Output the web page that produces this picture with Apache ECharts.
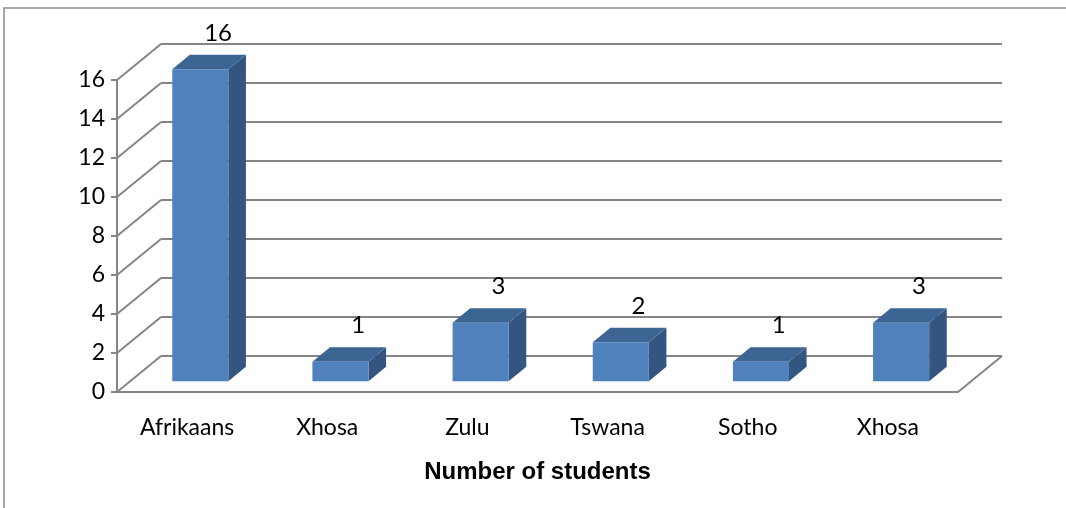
<!DOCTYPE html>
<html>
<head>
<meta charset="utf-8">
<script src="https://cdn.jsdelivr.net/npm/echarts@6/dist/echarts.min.js"></script>
<style>
  html, body { margin: 0; padding: 0; background: #fff; }
  #chart { width: 1066px; height: 508px; }
</style>
</head>
<body>
<div id="chart"></div>
<script>
// data
const categories = ["Afrikaans", "Xhosa", "Zulu", "Tswana", "Sotho", "Xhosa"];
const students = [16, 1, 3, 2, 1, 3];
const yTicks = [0, 2, 4, 6, 8, 10, 12, 14, 16];

// fake 3d: offset of the back wall from the front plane
const DX = 44, DY = -36;
const gridColor = "#858585";
const labelFont = "Lato, 'Open Sans', sans-serif";

let chart = echarts.init(document.getElementById("chart"));

function wallItem(params, api) {
  const cs = params.coordSys;
  const v = api.value(1);
  const y = api.coord([0, v])[1];
  const left = cs.x, right = cs.x + cs.width;
  const style = { stroke: gridColor, lineWidth: 2, fill: null };
  const children = [
    { type: "line", shape: { x1: left, y1: y, x2: left + DX, y2: y + DY }, style: style },
    { type: "line", shape: { x1: left + DX, y1: y + DY, x2: right + DX, y2: y + DY }, style: style }
  ];
  if (v === 0) {
    // right edge of the floor
    children.push({ type: "line", shape: { x1: right, y1: y, x2: right + DX, y2: y + DY }, style: style });
  }
  return { type: "group", children: children };
}

function barItem(params, api) {
  const i = api.value(0);
  const v = api.value(1);
  const base = api.coord([i, 0]);
  const top = api.coord([i, v]);
  const w = api.size([1, 0])[0] * 0.4;
  const f0 = 0.3, f1 = 0.7;
  const x0 = base[0] - w / 2 + DX * f0;
  const x1 = x0 + w;
  const yb = base[1] + DY * f0;
  const yt = top[1] + DY * f0;
  const bx = DX * (f1 - f0), by = DY * (f1 - f0);
  return {
    type: "group",
    children: [
      { type: "polygon", shape: { points: [[x1, yt], [x1 + bx, yt + by], [x1 + bx, yb + by], [x1, yb]] },
        style: { fill: "#34557f" } },
      { type: "polygon", shape: { points: [[x0, yt], [x1, yt], [x1 + bx, yt + by], [x0 + bx, yt + by]] },
        style: { fill: "#3d6594" } },
      { type: "rect", shape: { x: x0, y: yt, width: w, height: yb - yt },
        style: { fill: "#4f81bd" } },
      { type: "text",
        style: { text: String(v), x: (x0 + x1) / 2 + DX * 0.5 * (f1 - f0) + 9, y: top[1] + DY * 0.75 - 8,
          align: "center", verticalAlign: "bottom", fill: "#000", fontSize: 24, fontFamily: labelFont } }
    ]
  };
}

chart.setOption({
  animation: false,
  grid: { left: 117, right: 108, top: 80, bottom: 116 },
  xAxis: {
    type: "category",
    data: categories,
    boundaryGap: true,
    axisLine: { lineStyle: { color: gridColor, width: 2 } },
    axisTick: { length: 8, lineStyle: { color: gridColor, width: 2 } },
    axisLabel: { interval: 0, margin: 24, fontSize: 23, color: "#000", fontFamily: labelFont },
    name: "Number of students",
    nameLocation: "middle",
    nameGap: 68,
    nameTextStyle: { fontSize: 24, fontWeight: "bold", color: "#000", fontFamily: "'Liberation Sans', Arial, sans-serif" }
  },
  yAxis: {
    type: "value",
    min: 0,
    max: 16,
    interval: 2,
    axisLine: { show: true, lineStyle: { color: gridColor, width: 2 } },
    axisTick: { show: true, length: 6, lineStyle: { color: gridColor, width: 2 } },
    axisLabel: { margin: 12, fontSize: 23, color: "#000", fontFamily: labelFont },
    splitLine: { show: false }
  },
  graphic: [
    { type: "rect", shape: { x: 4, y: 8, width: 1100, height: 600 },
      style: { fill: null, stroke: "#8c8c8c", lineWidth: 1.5 }, silent: true }
  ],
  series: [
    {
      type: "custom",
      renderItem: wallItem,
      data: yTicks.map(v => [0, v]),
      encode: { x: 0, y: 1 },
      clip: false,
      silent: true,
      z: 1
    },
    {
      type: "custom",
      renderItem: barItem,
      data: students.map((v, i) => [i, v]),
      encode: { x: 0, y: 1 },
      clip: false,
      z: 3
    }
  ]
});
</script>
</body>
</html>
